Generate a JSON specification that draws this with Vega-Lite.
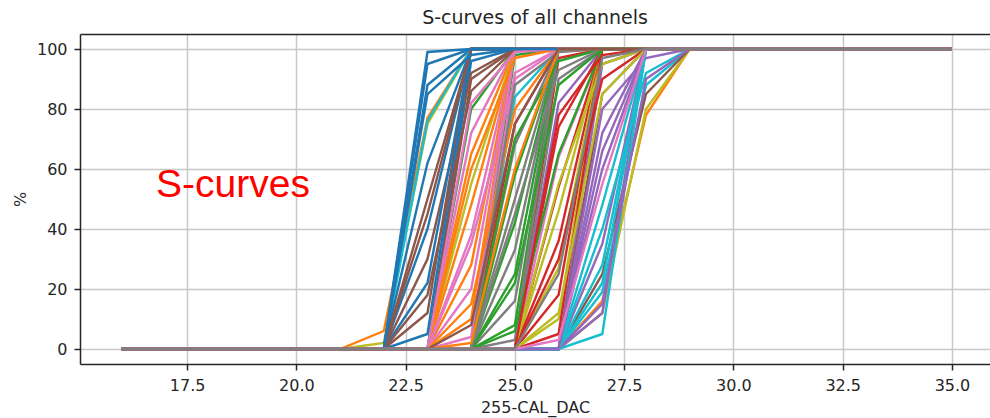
{
"$schema": "https://vega.github.io/schema/vega-lite/v6.json",
"width": 910, "height": 330,
"autosize": {"type": "none"},
"padding": {"left": 80, "top": 34, "right": 0, "bottom": 54},
"background": "white",
"title": {"text": "S-curves of all channels", "font": "DejaVu Sans", "fontSize": 19, "fontWeight": "normal", "color": "#262626", "anchor": "middle", "offset": -9, "baseline": "alphabetic"},
"config": {
  "view": {"stroke": null},
  "axis": {"domainColor": "#262626", "domainWidth": 1.5, "tickColor": "#262626", "tickWidth": 1.5, "tickSize": 6, "labelFont": "DejaVu Sans", "labelFontSize": 16, "labelColor": "#262626", "labelPadding": 7, "gridColor": "#c8c8c8", "gridWidth": 1.5, "titleFont": "DejaVu Sans", "titleFontSize": 16, "titleFontWeight": "normal", "titleColor": "#262626"}
},
"data": {"values": [
{"c":0,"x":16,"y":0},{"c":0,"x":23,"y":0},{"c":0,"x":24,"y":96},{"c":0,"x":25,"y":100},{"c":0,"x":35,"y":100},
{"c":1,"x":16,"y":0},{"c":1,"x":21,"y":0},{"c":1,"x":22,"y":6},{"c":1,"x":23,"y":77},{"c":1,"x":24,"y":100},{"c":1,"x":35,"y":100},
{"c":2,"x":16,"y":0},{"c":2,"x":24,"y":0},{"c":2,"x":25,"y":98},{"c":2,"x":26,"y":100},{"c":2,"x":35,"y":100},
{"c":3,"x":16,"y":0},{"c":3,"x":25,"y":0},{"c":3,"x":26,"y":97},{"c":3,"x":27,"y":100},{"c":3,"x":35,"y":100},
{"c":4,"x":16,"y":0},{"c":4,"x":26,"y":0},{"c":4,"x":27,"y":95},{"c":4,"x":28,"y":100},{"c":4,"x":35,"y":100},
{"c":5,"x":16,"y":0},{"c":5,"x":23,"y":0},{"c":5,"x":24,"y":90},{"c":5,"x":25,"y":100},{"c":5,"x":35,"y":100},
{"c":6,"x":16,"y":0},{"c":6,"x":24,"y":0},{"c":6,"x":25,"y":92},{"c":6,"x":26,"y":100},{"c":6,"x":35,"y":100},
{"c":7,"x":16,"y":0},{"c":7,"x":25,"y":0},{"c":7,"x":26,"y":90},{"c":7,"x":27,"y":100},{"c":7,"x":35,"y":100},
{"c":8,"x":16,"y":0},{"c":8,"x":21,"y":0},{"c":8,"x":22,"y":2},{"c":8,"x":23,"y":75},{"c":8,"x":24,"y":100},{"c":8,"x":35,"y":100},
{"c":9,"x":16,"y":0},{"c":9,"x":24,"y":0},{"c":9,"x":25,"y":84},{"c":9,"x":26,"y":100},{"c":9,"x":35,"y":100},
{"c":10,"x":16,"y":0},{"c":10,"x":22,"y":0},{"c":10,"x":23,"y":95},{"c":10,"x":24,"y":100},{"c":10,"x":35,"y":100},
{"c":11,"x":16,"y":0},{"c":11,"x":26,"y":0},{"c":11,"x":27,"y":16},{"c":11,"x":28,"y":78},{"c":11,"x":29,"y":100},{"c":11,"x":35,"y":100},
{"c":12,"x":16,"y":0},{"c":12,"x":23,"y":0},{"c":12,"x":24,"y":80},{"c":12,"x":25,"y":100},{"c":12,"x":35,"y":100},
{"c":13,"x":16,"y":0},{"c":13,"x":24,"y":0},{"c":13,"x":25,"y":75},{"c":13,"x":26,"y":100},{"c":13,"x":35,"y":100},
{"c":14,"x":16,"y":0},{"c":14,"x":25,"y":0},{"c":14,"x":26,"y":82},{"c":14,"x":27,"y":100},{"c":14,"x":35,"y":100},
{"c":15,"x":16,"y":0},{"c":15,"x":26,"y":0},{"c":15,"x":27,"y":85},{"c":15,"x":28,"y":100},{"c":15,"x":35,"y":100},
{"c":16,"x":16,"y":0},{"c":16,"x":23,"y":0},{"c":16,"x":24,"y":72},{"c":16,"x":25,"y":100},{"c":16,"x":35,"y":100},
{"c":17,"x":16,"y":0},{"c":17,"x":24,"y":0},{"c":17,"x":25,"y":68},{"c":17,"x":26,"y":100},{"c":17,"x":35,"y":100},
{"c":18,"x":16,"y":0},{"c":18,"x":26,"y":0},{"c":18,"x":27,"y":12},{"c":18,"x":28,"y":80},{"c":18,"x":29,"y":100},{"c":18,"x":35,"y":100},
{"c":19,"x":16,"y":0},{"c":19,"x":26,"y":0},{"c":19,"x":27,"y":19},{"c":19,"x":28,"y":88},{"c":19,"x":29,"y":100},{"c":19,"x":35,"y":100},
{"c":20,"x":16,"y":0},{"c":20,"x":22,"y":0},{"c":20,"x":23,"y":88},{"c":20,"x":24,"y":100},{"c":20,"x":35,"y":100},
{"c":21,"x":16,"y":0},{"c":21,"x":23,"y":0},{"c":21,"x":24,"y":65},{"c":21,"x":25,"y":100},{"c":21,"x":35,"y":100},
{"c":22,"x":16,"y":0},{"c":22,"x":24,"y":0},{"c":22,"x":25,"y":58},{"c":22,"x":26,"y":100},{"c":22,"x":35,"y":100},
{"c":23,"x":16,"y":0},{"c":23,"x":25,"y":0},{"c":23,"x":26,"y":74},{"c":23,"x":27,"y":100},{"c":23,"x":35,"y":100},
{"c":24,"x":16,"y":0},{"c":24,"x":26,"y":0},{"c":24,"x":27,"y":72},{"c":24,"x":28,"y":100},{"c":24,"x":35,"y":100},
{"c":25,"x":16,"y":0},{"c":25,"x":26,"y":0},{"c":25,"x":27,"y":25},{"c":25,"x":28,"y":85},{"c":25,"x":29,"y":100},{"c":25,"x":35,"y":100},
{"c":26,"x":16,"y":0},{"c":26,"x":25,"y":0},{"c":26,"x":26,"y":64},{"c":26,"x":27,"y":100},{"c":26,"x":35,"y":100},
{"c":27,"x":16,"y":0},{"c":27,"x":24,"y":0},{"c":27,"x":25,"y":50},{"c":27,"x":26,"y":100},{"c":27,"x":35,"y":100},
{"c":28,"x":16,"y":0},{"c":28,"x":23,"y":0},{"c":28,"x":24,"y":55},{"c":28,"x":25,"y":100},{"c":28,"x":35,"y":100},
{"c":29,"x":16,"y":0},{"c":29,"x":22,"y":0},{"c":29,"x":23,"y":76},{"c":29,"x":24,"y":100},{"c":29,"x":35,"y":100},
{"c":30,"x":16,"y":0},{"c":30,"x":22,"y":0},{"c":30,"x":23,"y":62},{"c":30,"x":24,"y":100},{"c":30,"x":35,"y":100},
{"c":31,"x":16,"y":0},{"c":31,"x":23,"y":0},{"c":31,"x":24,"y":48},{"c":31,"x":25,"y":100},{"c":31,"x":35,"y":100},
{"c":32,"x":16,"y":0},{"c":32,"x":24,"y":0},{"c":32,"x":25,"y":42},{"c":32,"x":26,"y":100},{"c":32,"x":35,"y":100},
{"c":33,"x":16,"y":0},{"c":33,"x":25,"y":0},{"c":33,"x":26,"y":54},{"c":33,"x":27,"y":100},{"c":33,"x":35,"y":100},
{"c":34,"x":16,"y":0},{"c":34,"x":26,"y":0},{"c":34,"x":27,"y":60},{"c":34,"x":28,"y":100},{"c":34,"x":35,"y":100},
{"c":35,"x":16,"y":0},{"c":35,"x":22,"y":0},{"c":35,"x":23,"y":50},{"c":35,"x":24,"y":100},{"c":35,"x":35,"y":100},
{"c":36,"x":16,"y":0},{"c":36,"x":23,"y":0},{"c":36,"x":24,"y":38},{"c":36,"x":25,"y":100},{"c":36,"x":35,"y":100},
{"c":37,"x":16,"y":0},{"c":37,"x":24,"y":0},{"c":37,"x":25,"y":33},{"c":37,"x":26,"y":100},{"c":37,"x":35,"y":100},
{"c":38,"x":16,"y":0},{"c":38,"x":25,"y":0},{"c":38,"x":26,"y":46},{"c":38,"x":27,"y":100},{"c":38,"x":35,"y":100},
{"c":39,"x":16,"y":0},{"c":39,"x":26,"y":0},{"c":39,"x":27,"y":48},{"c":39,"x":28,"y":100},{"c":39,"x":35,"y":100},
{"c":40,"x":16,"y":0},{"c":40,"x":22,"y":0},{"c":40,"x":23,"y":40},{"c":40,"x":24,"y":100},{"c":40,"x":35,"y":100},
{"c":41,"x":16,"y":0},{"c":41,"x":23,"y":0},{"c":41,"x":24,"y":28},{"c":41,"x":25,"y":100},{"c":41,"x":35,"y":100},
{"c":42,"x":16,"y":0},{"c":42,"x":24,"y":0},{"c":42,"x":25,"y":25},{"c":42,"x":26,"y":100},{"c":42,"x":35,"y":100},
{"c":43,"x":16,"y":0},{"c":43,"x":25,"y":0},{"c":43,"x":26,"y":36},{"c":43,"x":27,"y":100},{"c":43,"x":35,"y":100},
{"c":44,"x":16,"y":0},{"c":44,"x":26,"y":0},{"c":44,"x":27,"y":35},{"c":44,"x":28,"y":100},{"c":44,"x":35,"y":100},
{"c":45,"x":16,"y":0},{"c":45,"x":22,"y":0},{"c":45,"x":23,"y":30},{"c":45,"x":24,"y":92},{"c":45,"x":25,"y":100},{"c":45,"x":35,"y":100},
{"c":46,"x":16,"y":0},{"c":46,"x":23,"y":0},{"c":46,"x":24,"y":20},{"c":46,"x":25,"y":100},{"c":46,"x":35,"y":100},
{"c":47,"x":16,"y":0},{"c":47,"x":24,"y":0},{"c":47,"x":25,"y":16},{"c":47,"x":26,"y":100},{"c":47,"x":35,"y":100},
{"c":48,"x":16,"y":0},{"c":48,"x":25,"y":0},{"c":48,"x":26,"y":27},{"c":48,"x":27,"y":100},{"c":48,"x":35,"y":100},
{"c":49,"x":16,"y":0},{"c":49,"x":26,"y":0},{"c":49,"x":27,"y":22},{"c":49,"x":28,"y":100},{"c":49,"x":35,"y":100},
{"c":50,"x":16,"y":0},{"c":50,"x":22,"y":0},{"c":50,"x":23,"y":22},{"c":50,"x":24,"y":100},{"c":50,"x":35,"y":100},
{"c":51,"x":16,"y":0},{"c":51,"x":23,"y":0},{"c":51,"x":24,"y":10},{"c":51,"x":25,"y":100},{"c":51,"x":35,"y":100},
{"c":52,"x":16,"y":0},{"c":52,"x":24,"y":0},{"c":52,"x":25,"y":8},{"c":52,"x":26,"y":100},{"c":52,"x":35,"y":100},
{"c":53,"x":16,"y":0},{"c":53,"x":25,"y":0},{"c":53,"x":26,"y":18},{"c":53,"x":27,"y":100},{"c":53,"x":35,"y":100},
{"c":54,"x":16,"y":0},{"c":54,"x":26,"y":0},{"c":54,"x":27,"y":12},{"c":54,"x":28,"y":100},{"c":54,"x":35,"y":100},
{"c":55,"x":16,"y":0},{"c":55,"x":22,"y":0},{"c":55,"x":23,"y":12},{"c":55,"x":24,"y":100},{"c":55,"x":35,"y":100},
{"c":56,"x":16,"y":0},{"c":56,"x":23,"y":0},{"c":56,"x":24,"y":4},{"c":56,"x":25,"y":100},{"c":56,"x":35,"y":100},
{"c":57,"x":16,"y":0},{"c":57,"x":24,"y":0},{"c":57,"x":25,"y":3},{"c":57,"x":26,"y":100},{"c":57,"x":35,"y":100},
{"c":58,"x":16,"y":0},{"c":58,"x":25,"y":0},{"c":58,"x":26,"y":10},{"c":58,"x":27,"y":100},{"c":58,"x":35,"y":100},
{"c":59,"x":16,"y":0},{"c":59,"x":26,"y":0},{"c":59,"x":27,"y":5},{"c":59,"x":28,"y":100},{"c":59,"x":35,"y":100},
{"c":60,"x":16,"y":0},{"c":60,"x":22,"y":0},{"c":60,"x":23,"y":5},{"c":60,"x":24,"y":100},{"c":60,"x":35,"y":100},
{"c":61,"x":16,"y":0},{"c":61,"x":23,"y":0},{"c":61,"x":24,"y":60},{"c":61,"x":25,"y":97},{"c":61,"x":26,"y":100},{"c":61,"x":35,"y":100},
{"c":62,"x":16,"y":0},{"c":62,"x":24,"y":0},{"c":62,"x":25,"y":70},{"c":62,"x":26,"y":96},{"c":62,"x":27,"y":100},{"c":62,"x":35,"y":100},
{"c":63,"x":16,"y":0},{"c":63,"x":25,"y":0},{"c":63,"x":26,"y":5},{"c":63,"x":27,"y":100},{"c":63,"x":35,"y":100},
{"c":64,"x":16,"y":0},{"c":64,"x":26,"y":0},{"c":64,"x":27,"y":80},{"c":64,"x":28,"y":97},{"c":64,"x":29,"y":100},{"c":64,"x":35,"y":100},
{"c":65,"x":16,"y":0},{"c":65,"x":22,"y":0},{"c":65,"x":23,"y":45},{"c":65,"x":24,"y":100},{"c":65,"x":35,"y":100},
{"c":66,"x":16,"y":0},{"c":66,"x":23,"y":0},{"c":66,"x":24,"y":35},{"c":66,"x":25,"y":90},{"c":66,"x":26,"y":100},{"c":66,"x":35,"y":100},
{"c":67,"x":16,"y":0},{"c":67,"x":24,"y":0},{"c":67,"x":25,"y":45},{"c":67,"x":26,"y":93},{"c":67,"x":27,"y":100},{"c":67,"x":35,"y":100},
{"c":68,"x":16,"y":0},{"c":68,"x":25,"y":0},{"c":68,"x":26,"y":55},{"c":68,"x":27,"y":95},{"c":68,"x":28,"y":100},{"c":68,"x":35,"y":100},
{"c":69,"x":16,"y":0},{"c":69,"x":26,"y":0},{"c":69,"x":27,"y":40},{"c":69,"x":28,"y":92},{"c":69,"x":29,"y":100},{"c":69,"x":35,"y":100},
{"c":70,"x":16,"y":0},{"c":70,"x":22,"y":0},{"c":70,"x":23,"y":85},{"c":70,"x":24,"y":98},{"c":70,"x":25,"y":100},{"c":70,"x":35,"y":100},
{"c":71,"x":16,"y":0},{"c":71,"x":23,"y":0},{"c":71,"x":24,"y":15},{"c":71,"x":25,"y":80},{"c":71,"x":26,"y":100},{"c":71,"x":35,"y":100},
{"c":72,"x":16,"y":0},{"c":72,"x":24,"y":0},{"c":72,"x":25,"y":22},{"c":72,"x":26,"y":88},{"c":72,"x":27,"y":100},{"c":72,"x":35,"y":100},
{"c":73,"x":16,"y":0},{"c":73,"x":25,"y":0},{"c":73,"x":26,"y":30},{"c":73,"x":27,"y":90},{"c":73,"x":28,"y":100},{"c":73,"x":35,"y":100},
{"c":74,"x":16,"y":0},{"c":74,"x":26,"y":0},{"c":74,"x":27,"y":15},{"c":74,"x":28,"y":90},{"c":74,"x":29,"y":100},{"c":74,"x":35,"y":100},
{"c":75,"x":16,"y":0},{"c":75,"x":22,"y":0},{"c":75,"x":23,"y":18},{"c":75,"x":24,"y":86},{"c":75,"x":25,"y":100},{"c":75,"x":35,"y":100},
{"c":76,"x":16,"y":0},{"c":76,"x":23,"y":0},{"c":76,"x":24,"y":82},{"c":76,"x":25,"y":99},{"c":76,"x":26,"y":100},{"c":76,"x":35,"y":100},
{"c":77,"x":16,"y":0},{"c":77,"x":24,"y":0},{"c":77,"x":25,"y":88},{"c":77,"x":26,"y":99},{"c":77,"x":27,"y":100},{"c":77,"x":35,"y":100},
{"c":78,"x":16,"y":0},{"c":78,"x":25,"y":0},{"c":78,"x":26,"y":12},{"c":78,"x":27,"y":85},{"c":78,"x":28,"y":100},{"c":78,"x":35,"y":100},
{"c":79,"x":16,"y":0},{"c":79,"x":26,"y":0},{"c":79,"x":27,"y":28},{"c":79,"x":28,"y":100},{"c":79,"x":35,"y":100},
{"c":80,"x":16,"y":0},{"c":80,"x":22,"y":0},{"c":80,"x":23,"y":99},{"c":80,"x":24,"y":100},{"c":80,"x":35,"y":100},
{"c":81,"x":16,"y":0},{"c":81,"x":23,"y":0},{"c":81,"x":24,"y":2},{"c":81,"x":25,"y":60},{"c":81,"x":26,"y":100},{"c":81,"x":35,"y":100},
{"c":82,"x":16,"y":0},{"c":82,"x":24,"y":0},{"c":82,"x":25,"y":6},{"c":82,"x":26,"y":65},{"c":82,"x":27,"y":100},{"c":82,"x":35,"y":100},
{"c":83,"x":16,"y":0},{"c":83,"x":25,"y":0},{"c":83,"x":26,"y":78},{"c":83,"x":27,"y":98},{"c":83,"x":28,"y":100},{"c":83,"x":35,"y":100},
{"c":84,"x":16,"y":0},{"c":84,"x":26,"y":0},{"c":84,"x":27,"y":66},{"c":84,"x":28,"y":100},{"c":84,"x":35,"y":100},
{"c":85,"x":16,"y":0},{"c":85,"x":23,"y":0},{"c":85,"x":24,"y":8},{"c":85,"x":25,"y":75},{"c":85,"x":26,"y":100},{"c":85,"x":35,"y":100},
{"c":86,"x":16,"y":0},{"c":86,"x":25,"y":0},{"c":86,"x":26,"y":3},{"c":86,"x":27,"y":55},{"c":86,"x":28,"y":100},{"c":86,"x":35,"y":100},
{"c":87,"x":16,"y":0},{"c":87,"x":25,"y":0},{"c":87,"x":26,"y":25},{"c":87,"x":27,"y":97},{"c":87,"x":28,"y":100},{"c":87,"x":35,"y":100}
]},
"layer": [
  {
    "mark": {"type": "line", "strokeWidth": 2.4},
    "encoding": {
      "x": {"field": "x", "type": "quantitative", "scale": {"domain": [15.05, 35.87], "nice": false, "zero": false},
            "axis": {"title": "255-CAL_DAC", "values": [17.5, 20, 22.5, 25, 27.5, 30, 32.5, 35], "format": ".1f", "titlePadding": 6}},
      "y": {"field": "y", "type": "quantitative", "scale": {"domain": [-5, 105], "nice": false, "zero": false},
            "axis": {"title": "%", "values": [0, 20, 40, 60, 80, 100], "format": "d", "titlePadding": 8}},
      "color": {"field": "c", "type": "nominal", "sort": null, "legend": null,
                "scale": {"range": ["#1f77b4","#ff7f0e","#2ca02c","#d62728","#9467bd","#8c564b","#e377c2","#7f7f7f","#bcbd22","#17becf"]}}
    }
  },
  {
    "data": {"values": [{"label": "S-curves", "x": 16.79, "y": 50.8}]},
    "mark": {"type": "text", "color": "#ff0000", "font": "Liberation Sans", "fontSize": 39, "align": "left", "baseline": "alphabetic"},
    "encoding": {
      "x": {"field": "x", "type": "quantitative", "axis": {"orient": "top", "labels": false, "ticks": false, "grid": false, "title": null, "domain": true}},
      "y": {"field": "y", "type": "quantitative"},
      "text": {"field": "label"}
    }
  }
],
"resolve": {"axis": {"x": "independent"}}
}
